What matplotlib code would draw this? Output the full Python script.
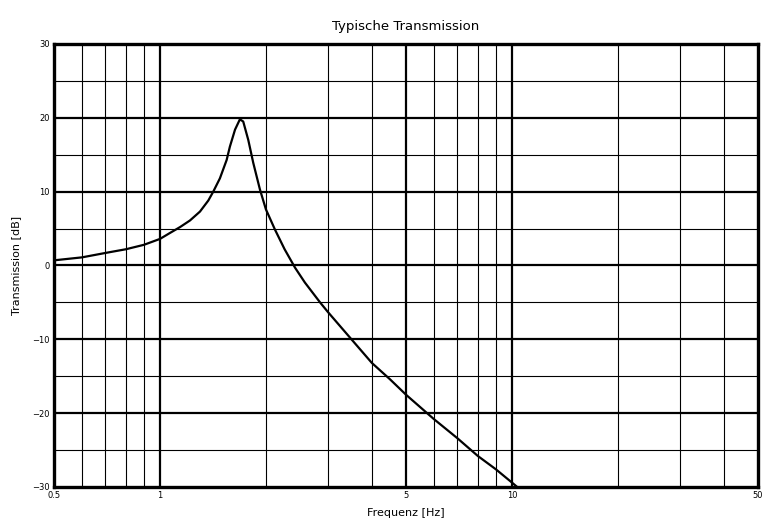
import numpy as np
import matplotlib.pyplot as plt

# curve (frequency in Hz, transmission in dB)
freq = [0.5, 0.6, 0.7, 0.8, 0.9, 1.0, 1.067, 1.14, 1.217, 1.299, 1.372, 1.417, 1.48,
        1.547, 1.58, 1.634, 1.687, 1.724, 1.782, 1.841, 1.923, 2.0, 2.12, 2.26,
        2.42, 2.58, 2.85, 3.0, 3.5, 4.0, 4.5, 5.0, 6.0, 7.0, 8.0, 9.0, 10.0, 10.35]
trans = [0.7, 1.1, 1.7, 2.2, 2.8, 3.6, 4.4, 5.2, 6.1, 7.3, 8.8, 10.0, 11.8,
         14.3, 16.1, 18.4, 19.8, 19.5, 17.0, 13.9, 10.3, 7.6, 4.9, 2.2,
         -0.3, -2.3, -5.0, -6.3, -10.0, -13.2, -15.4, -17.5, -20.8, -23.4, -25.8, -27.6, -29.4, -30.0]

xticks = [0.5, 1, 5, 10, 50]
xtick_labels = ['0.5', '1', '5', '10', '50']
yticks = [-30, -20, -10, 0, 10, 20, 30]
x_minor = [0.6, 0.7, 0.8, 0.9, 2, 3, 4, 6, 7, 8, 9, 20, 30, 40]
x_major = [1, 5, 10]
y_minor = [-25, -15, -5, 5, 15, 25]
y_major = [-20, -10, 0, 10, 20]

fig = plt.figure(figsize=(7.74, 5.26), dpi=100)
ax = fig.add_axes([54 / 774, 1 - 487 / 526, 704 / 774, 443 / 526])

for v in x_minor:
    ax.axvline(v, color='black', lw=0.8, zorder=1)
for v in x_major:
    ax.axvline(v, color='black', lw=1.6, zorder=1)
for v in y_minor:
    ax.axhline(v, color='black', lw=0.8, zorder=1)
for v in y_major:
    ax.axhline(v, color='black', lw=1.6, zorder=1)

ax.plot(freq, trans, color='black', lw=1.6, zorder=3, solid_joinstyle='round')

ax.set_xscale('log')
ax.set_xlim(0.5, 50)
ax.set_ylim(-30, 30)
ax.set_xticks(xticks)
ax.set_xticklabels(xtick_labels)
ax.xaxis.set_minor_locator(plt.NullLocator())
ax.set_yticks(yticks)
ax.tick_params(length=0, labelsize=6, pad=3)
for s in ax.spines.values():
    s.set_linewidth(2.4)

ax.set_title('Typische Transmission', fontsize=9.5, pad=10)
ax.set_xlabel('Frequenz [Hz]', fontsize=8, labelpad=6)
ax.set_ylabel('Transmission [dB]', fontsize=8, labelpad=8)

fig.savefig('out.png', dpi=100)
